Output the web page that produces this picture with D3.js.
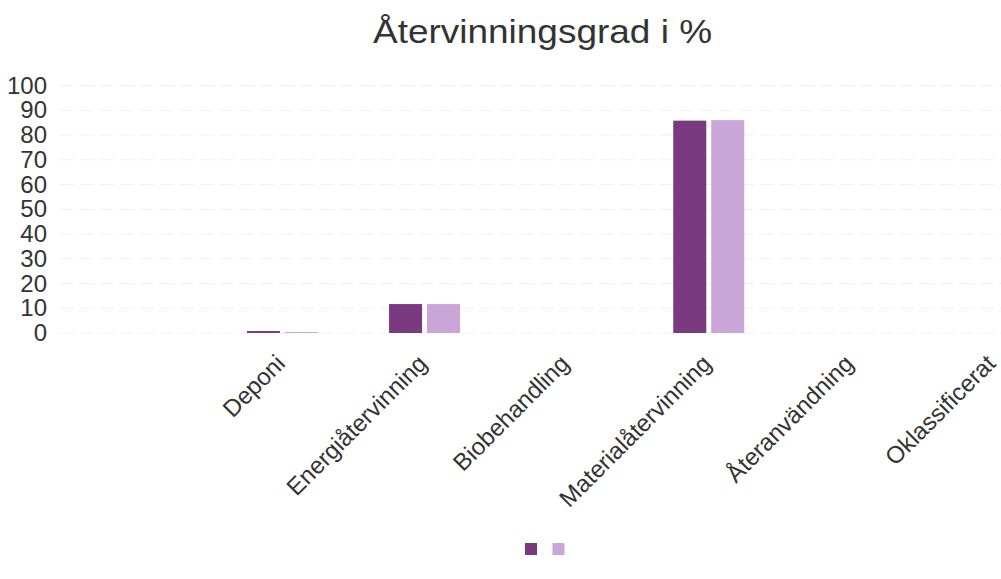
<!DOCTYPE html>
<html><head><meta charset="utf-8">
<script src="https://cdn.jsdelivr.net/npm/d3@7"></script>
<style>body{margin:0;background:#fff}svg{display:block}text{font-family:"Liberation Sans",Arial,sans-serif}</style>
</head><body>
<svg id="c" width="1001" height="579"></svg>
<script>
const title = "Återvinningsgrad i %";
const categories = ["Deponi","Energiåtervinning","Biobehandling","Materialåtervinning","Återanvändning","Oklassificerat"];
const series1 = [0.8, 11.7, 0, 85.8, 0, 0];
const series2 = [0.4, 11.7, 0, 86.0, 0, 0];
const seriesColors = ["#7b3a80","#c9a6d7"];
const yTicks = [0,10,20,30,40,50,60,70,80,90,100];

const svg = d3.select("#c");
const y = d3.scaleLinear().domain([0,100]).range([333,85.5]);
const x = d3.scaleBand().domain(categories).range([211.4,1064]);
const xs = d3.scaleBand().domain([0,1]).range([0,71]).paddingInner(0.13);

svg.append("text").attr("x",373).attr("y",43)
  .attr("font-size",34).attr("fill","#333")
  .attr("textLength",339).attr("lengthAdjust","spacingAndGlyphs").text(title);

// grid
svg.append("g").selectAll("line").data(yTicks).join("line")
  .attr("x1",60).attr("x2",1001).attr("y1",d=>y(d)).attr("y2",d=>y(d))
  .attr("stroke","#f0f0f0").attr("stroke-width",1).attr("stroke-dasharray","14,6");

// y axis
const ya = svg.append("g").attr("transform","translate(47,0)")
  .call(d3.axisLeft(y).tickValues(yTicks).tickSize(0).tickPadding(0));
ya.select(".domain").remove();
ya.selectAll("text").attr("font-size",24).attr("fill","#333").attr("font-family","Liberation Sans, Arial, sans-serif");

// bars
const data = categories.map((c,i)=>({c, v:[series1[i],series2[i]]}));
const g = svg.append("g");
data.forEach(d=>{
  const cx = x(d.c) + x.bandwidth()/2 - 35.5;
  d.v.forEach((v,j)=>{
    if(v<=0) return;
    g.append("rect").attr("x",cx+xs(j)).attr("width",xs.bandwidth())
      .attr("y",y(v)).attr("height",y(0)-y(v)).attr("fill",seriesColors[j]);
  });
});

// x labels
const xa = svg.append("g").attr("transform","translate(0,333)")
  .call(d3.axisBottom(x).tickSize(0).tickPadding(0));
xa.select(".domain").remove();
xa.selectAll("text").attr("font-size",24).attr("fill","#333")
  .attr("font-family","Liberation Sans, Arial, sans-serif")
  .attr("text-anchor","end").attr("dy",null).attr("y",0)
  .attr("transform","translate(4,32) rotate(-45)");

// legend
const lg = svg.append("g");
[0,1].forEach(j=>{
  lg.append("rect").attr("x",525+j*27.5).attr("y",543).attr("width",12).attr("height",12)
    .attr("fill",seriesColors[j]);
});
</script>
</body></html>
